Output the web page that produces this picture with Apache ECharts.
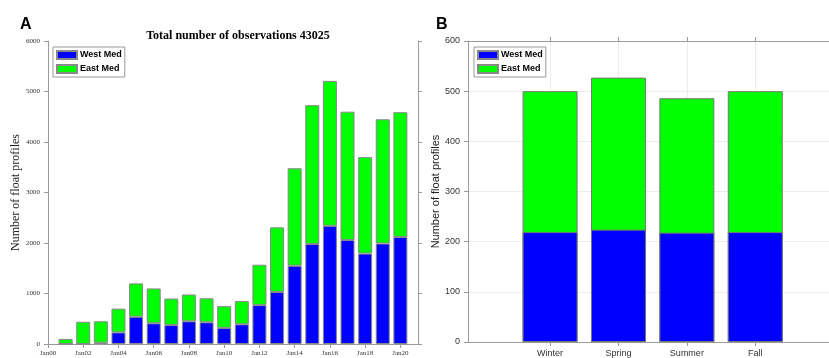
<!DOCTYPE html>
<html lang="en">
<head>
    <meta charset="UTF-8">
    <title>Float profiles</title>
    <script src="https://cdn.jsdelivr.net/npm/echarts@6.0.0/dist/echarts.min.js"></script>
    <style>
        html, body { margin: 0; padding: 0; background: #fff; }
        #chart { width: 829px; height: 358px; }
    </style>
</head>
<body>
<div id="chart"></div>
<script>
// panel A: yearly counts (2000 and 2021 are empty ends of the axis)
var years = ['2000','2001','2002','2003','2004','2005','2006','2007','2008','2009','2010',
             '2011','2012','2013','2014','2015','2016','2017','2018','2019','2020','2021'];
var westYear = ['-', 0, 0, 25, 230, 540, 410, 375, 450, 430, 320,
                390, 770, 1030, 1550, 1980, 2340, 2060, 1790, 1990, 2120, '-'];
var eastYear = ['-', 100, 440, 425, 470, 660, 690, 525, 530, 475, 430,
                460, 800, 1280, 1930, 2750, 2870, 2540, 1910, 2460, 2470, '-'];

// panel B: seasonal counts (bar tops = total, blue part = West Med)
var seasons = ['Winter', 'Spring', 'Summer', 'Fall'];
var westSeason = [219, 224, 218, 219];
var totalSeason = [500, 527, 486, 500];

var blue = '#0000ff', green = '#00ff00';
var axisGrey = '#9a9a9a';

function evenYear(idx) { return idx % 2 === 0 && idx <= 20; }

var chart = echarts.init(document.getElementById('chart'));

var legendBase = {
    orient: 'vertical',
    data: ['West Med', 'East Med'],
    icon: 'rect',
    itemWidth: 20,
    itemHeight: 8,
    itemGap: 4,
    padding: [3, 3, 3, 3],
    borderColor: '#999',
    borderWidth: 1,
    backgroundColor: '#fff',
    selectedMode: false,
    textStyle: { fontFamily: 'Liberation Sans', fontWeight: 'bold', fontSize: 9, color: '#000', padding: [0, 0, 0, -2] }
};

var option = {
    animation: false,
    title: [
        { text: 'A', left: 15, top: 12, textStyle: { fontFamily: 'Liberation Sans', fontWeight: 'bold', fontSize: 16, color: '#000' } },
        { text: 'B', left: 431, top: 12, textStyle: { fontFamily: 'Liberation Sans', fontWeight: 'bold', fontSize: 16, color: '#000' } },
        { text: 'Total number of observations 43025', left: 233, top: 25, textAlign: 'center',
          textStyle: { fontFamily: 'Liberation Serif', fontWeight: 'bold', fontSize: 12, color: '#000' } }
    ],
    legend: [
        Object.assign({ left: 53, top: 47 }, legendBase),
        Object.assign({ left: 474, top: 47 }, legendBase)
    ],
    grid: [
        { left: 48, top: 41, width: 370, bottom: 14 },
        { left: 468, top: 41, right: 0, bottom: 14 }
    ],
    xAxis: [
        {
            type: 'category', gridIndex: 0, data: years, boundaryGap: false, position: 'bottom',
            axisLine: { lineStyle: { color: axisGrey } },
            axisTick: { interval: evenYear, length: 4, lineStyle: { color: axisGrey } },
            axisLabel: { interval: evenYear, margin: 6, fontFamily: 'Liberation Serif', fontSize: 7, color: '#333',
                         formatter: function (v) { return 'Jan' + v.slice(2); } }
        },
        {
            type: 'category', gridIndex: 0, data: years, boundaryGap: false, position: 'top',
            axisLine: { lineStyle: { color: axisGrey } },
            axisTick: { interval: evenYear, length: 4, lineStyle: { color: axisGrey } },
            axisLabel: { show: false }
        },
        {
            type: 'value', gridIndex: 1, min: -0.2, max: 5.078, position: 'bottom',
            splitLine: { show: false },
            axisLine: { onZero: false, lineStyle: { color: axisGrey } },
            axisTick: { customValues: [1, 2, 3, 4], length: 4, lineStyle: { color: axisGrey } },
            axisLabel: { customValues: [1, 2, 3, 4], margin: 7, fontFamily: 'Liberation Sans', fontSize: 9, color: '#333',
                         formatter: function (v) { return seasons[Math.round(v) - 1] || ''; } }
        },
        {
            type: 'value', gridIndex: 1, min: -0.2, max: 5.078, position: 'top',
            splitLine: { show: false },
            axisLine: { onZero: false, lineStyle: { color: axisGrey } },
            axisTick: { customValues: [1, 2, 3, 4], length: 4, lineStyle: { color: axisGrey } },
            axisLabel: { show: false }
        }
    ],
    yAxis: [
        {
            type: 'value', gridIndex: 0, min: 0, max: 6000, interval: 1000, position: 'left',
            name: 'Number of float profiles', nameLocation: 'middle', nameGap: 24,
            nameTextStyle: { fontFamily: 'Liberation Serif', fontSize: 12, color: '#222' },
            splitLine: { show: false },
            axisLine: { show: true, onZero: false, lineStyle: { color: axisGrey } },
            axisTick: { show: true, length: 4, lineStyle: { color: axisGrey } },
            axisLabel: { margin: 8, fontFamily: 'Liberation Serif', fontSize: 7, color: '#333',
                         formatter: function (v) { return String(v); } }
        },
        {
            type: 'value', gridIndex: 0, min: 0, max: 6000, interval: 1000, position: 'right',
            splitLine: { show: false },
            axisLine: { show: true, onZero: false, lineStyle: { color: axisGrey } },
            axisTick: { show: true, length: 4, lineStyle: { color: axisGrey } },
            axisLabel: { show: false }
        },
        {
            type: 'value', gridIndex: 1, min: 0, max: 600, interval: 100, position: 'left',
            name: 'Number of float profiles', nameLocation: 'middle', nameGap: 24,
            nameTextStyle: { fontFamily: 'Liberation Sans', fontSize: 11, color: '#222' },
            splitLine: { show: true, lineStyle: { color: '#ececec' } },
            axisLine: { show: true, onZero: false, lineStyle: { color: axisGrey } },
            axisTick: { show: true, length: 4, lineStyle: { color: axisGrey } },
            axisLabel: { margin: 8, fontFamily: 'Liberation Sans', fontSize: 9, color: '#333' }
        }
    ],
    series: [
        {
            name: 'West Med', type: 'bar', stack: 'year', xAxisIndex: 0, yAxisIndex: 0,
            barWidth: 14, data: westYear,
            itemStyle: { color: blue, borderColor: '#888', borderWidth: 1 }
        },
        {
            name: 'East Med', type: 'bar', stack: 'year', xAxisIndex: 0, yAxisIndex: 0,
            barWidth: 14, data: eastYear,
            itemStyle: { color: green, borderColor: '#888', borderWidth: 1 }
        },
        {
            // vertical grid lines of panel B
            type: 'line', xAxisIndex: 2, yAxisIndex: 2, data: [], z: 0, silent: true,
            markLine: {
                silent: true, z: 0, symbol: 'none', label: { show: false },
                lineStyle: { color: '#ececec', type: 'solid', width: 1 },
                data: [{ xAxis: 1 }, { xAxis: 2 }, { xAxis: 3 }, { xAxis: 4 }]
            }
        },
        {
            name: 'East Med', type: 'bar', xAxisIndex: 2, yAxisIndex: 2, z: 2,
            barWidth: 55, barGap: '-100%',
            data: totalSeason.map(function (v, i) { return [i + 1, v]; }),
            itemStyle: { color: green, borderColor: '#777', borderWidth: 1 }
        },
        {
            name: 'West Med', type: 'bar', xAxisIndex: 2, yAxisIndex: 2, z: 3,
            barWidth: 55, barGap: '-100%',
            data: westSeason.map(function (v, i) { return [i + 1, v]; }),
            itemStyle: { color: blue, borderColor: '#777', borderWidth: 1 }
        }
    ]
};

chart.setOption(option);
</script>
</body>
</html>
